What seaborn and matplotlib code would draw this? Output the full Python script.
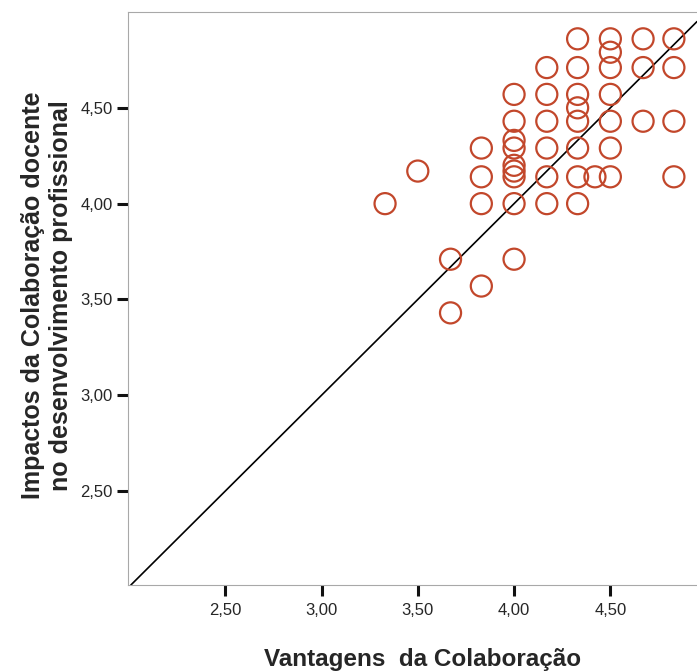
import matplotlib
matplotlib.use("Agg")
import matplotlib.pyplot as plt
import seaborn as sns
import pandas as pd

# Vantagens da Colaboração (x) vs Impactos no desenvolvimento profissional (y)
vantagens = [3.33, 3.50, 3.67, 3.67,
             3.83, 3.83, 3.83, 3.83,
             4.00, 4.00, 4.00, 4.00, 4.00, 4.00, 4.00, 4.00, 4.00,
             4.17, 4.17, 4.17, 4.17, 4.17, 4.17,
             4.33, 4.33, 4.33, 4.33, 4.33, 4.33, 4.33, 4.33,
             4.42,
             4.50, 4.50, 4.50, 4.50, 4.50, 4.50, 4.50,
             4.67, 4.67, 4.67,
             4.83, 4.83, 4.83, 4.83]
impactos = [4.00, 4.17, 3.71, 3.43,
            4.29, 4.14, 4.00, 3.57,
            4.57, 4.43, 4.33, 4.29, 4.20, 4.17, 4.14, 4.00, 3.71,
            4.71, 4.57, 4.43, 4.29, 4.14, 4.00,
            4.86, 4.71, 4.57, 4.50, 4.43, 4.29, 4.14, 4.00,
            4.14,
            4.86, 4.79, 4.71, 4.57, 4.43, 4.29, 4.14,
            4.86, 4.71, 4.43,
            4.86, 4.71, 4.43, 4.14]
xticks = [2.5, 3.0, 3.5, 4.0, 4.5]
yticks = [2.5, 3.0, 3.5, 4.0, 4.5]

df = pd.DataFrame({"vantagens": vantagens, "impactos": impactos})

sns.set_style("white")
plt.rcParams["font.family"] = ["Liberation Sans", "DejaVu Sans"]

fig = plt.figure(figsize=(6.97, 6.72), dpi=100)
ax = fig.add_axes([128 / 697, 1 - 585 / 672, 569 / 697, 573 / 672])

sns.scatterplot(data=df, x="vantagens", y="impactos", ax=ax, marker="o", s=230,
                facecolor="none", edgecolor="#c2472b", linewidth=1.6, zorder=3)
ax.axline((2.0, 2.0), slope=1, color="black", lw=1.2, zorder=2)

ax.set_xlim(1.995, 4.95)
ax.set_ylim(2.01, 5.0)
ax.set_xticks(xticks)
ax.set_yticks(yticks)
ax.set_xticklabels([f"{t:.2f}".replace(".", ",") for t in xticks])
ax.set_yticklabels([f"{t:.2f}".replace(".", ",") for t in yticks])
ax.tick_params(axis="both", direction="out", length=8, width=2.2, color="#111111",
               labelsize=12, pad=3, bottom=True, left=True)
ax.tick_params(axis="x", pad=5)

for side in ["top", "bottom", "left"]:
    ax.spines[side].set_color("#a8a8a8")
    ax.spines[side].set_linewidth(0.8)
ax.spines["right"].set_visible(False)

ax.set_xlabel("Vantagens  da Colaboração", fontsize=17.5, fontweight="bold")
ax.set_ylabel("Impactos da Colaboração docente\nno desenvolvimento profissional",
              fontsize=18, fontweight="bold")
ax.xaxis.set_label_coords(0.517, -0.11)
ax.yaxis.set_label_coords(-0.097, 0.505)

fig.savefig("out.png", dpi=100)
